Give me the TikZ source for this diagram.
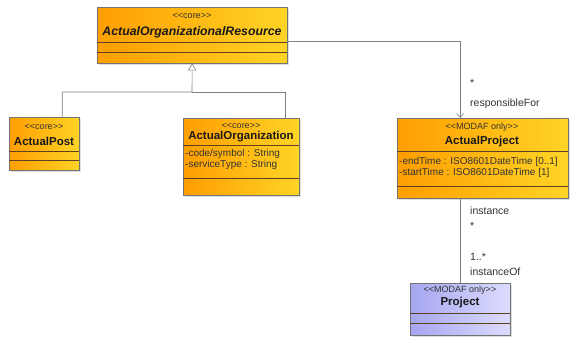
\documentclass[tikz,border=0pt]{standalone}
\usepackage{fontspec}
\setmainfont{Liberation Sans}
\usetikzlibrary{arrows.meta, shadows}
\definecolor{umlOrange}{HTML}{FF9E00}
\definecolor{umlYellow}{HTML}{FFD426}
\definecolor{umlBlueL}{HTML}{A6A6F0}
\definecolor{umlBlueR}{HTML}{DCDCFF}
\newcommand{\stype}[1]{<{}<#1>{}>}
\tikzstyle{cls}=[draw=black!55, anchor=north west, inner sep=0pt, left color=umlOrange, right color=umlYellow, drop shadow={shadow xshift=1.5pt, shadow yshift=-1.5pt, fill=black!25}]
\tikzstyle{clsB}=[cls, left color=umlBlueL, right color=umlBlueR]
\tikzstyle{sep}=[draw=black!50!brown, line width=0.5pt]
\tikzstyle{stereo}=[inner sep=0pt, text=black!80, font=\fontsize{9}{10}\selectfont]
\tikzstyle{cname}=[inner sep=0pt, text=black!90, font=\fontsize{11.5}{12}\selectfont\bfseries]
\tikzstyle{attr}=[inner sep=0pt, anchor=west, text=black!80, font=\fontsize{10}{11}\selectfont]
\tikzstyle{lbl}=[inner sep=0pt, anchor=west, text=black!80, font=\fontsize{10.5}{11}\selectfont]
\tikzstyle{conn}=[draw=black!50, line width=0.6pt]

\begin{document}
\begin{tikzpicture}[x=1pt, y=-1pt]
	\useasboundingbox[fill=white] (0,0) rectangle (574,338);

	% Class boxes
	\node[cls, minimum width=190pt, minimum height=56pt] (R) at (97,7) {};
	\node[cls, minimum width=70pt, minimum height=53pt] (Post) at (9,117) {};
	\node[cls, minimum width=116pt, minimum height=77pt] (Org) at (183,118) {};
	\node[cls, minimum width=171pt, minimum height=80pt] (AP) at (397,118) {};
	\node[clsB, minimum width=100pt, minimum height=52pt] (Proj) at (410,283) {};

	% Compartment lines
	\foreach \b/\d in {R/35, R/45, Post/34, Post/43, Org/27, Org/60, AP/33, AP/68, Proj/30, Proj/40}{
		\draw[sep] ([yshift=-\d pt]\b.north west) -- ([yshift=-\d pt]\b.north east);
	}

	% Titles
	\node[stereo] (Rst) at (192,16) {\stype{core}};
	\node[cname, font=\fontsize{12.3}{13}\selectfont\bfseries\itshape] (Rnm) at (192,32) {ActualOrganizationalResource};
	\node[stereo] (Postst) at (44,127) {\stype{core}};
	\node[cname] (Postnm) at (44,141) {ActualPost};
	\node[stereo] (Orgst) at (241,126) {\stype{core}};
	\node[cname] (Orgnm) at (241,137) {ActualOrganization};
	\node[stereo] (APst) at (482,127) {\stype{MODAF only}};
	\node[cname] (APnm) at (482,142) {ActualProject};
	\node[stereo] (Projst) at (460,290) {\stype{MODAF only}};
	\node[cname] (Projnm) at (460,303) {Project};

	% Attributes
	\node[attr] (Org1) at (185,154) {-code/symbol : String};
	\node[attr] (Org2) at (185,165) {-serviceType : String};
	\node[attr] (AP1) at (399,162) {-endTime : ISO8601DateTime [0..1]};
	\node[attr] (AP2) at (399,173) {-startTime : ISO8601DateTime [1]};

	% Generalization
	\coordinate (J) at (192,92);
	\draw[conn, -{Triangle[open, length=7pt, width=8pt]}] ([xshift=18pt]Post.north) |- (J) -- (R.south);
	\draw[conn] ([xshift=44pt]Org.north) |- (J);

	% Associations
	\draw[conn, -{Straight Barb[length=4pt, width=7pt]}] ([yshift=-6pt]R.east) -| (Proj.north |- AP.north);
	\draw[conn] (Proj.north |- AP.south) -- (Proj.north);

	% Role names and multiplicities
	\node[lbl] (m1) at (470,83) {*};
	\node[lbl] (r1) at (470,104) {responsibleFor};
	\node[lbl] (r2) at (470,211) {instance};
	\node[lbl] (m2) at (470,226) {*};
	\node[lbl] (m3) at (470,257) {1..*};
	\node[lbl] (r3) at (470,272) {instanceOf};
\end{tikzpicture}
\end{document}
